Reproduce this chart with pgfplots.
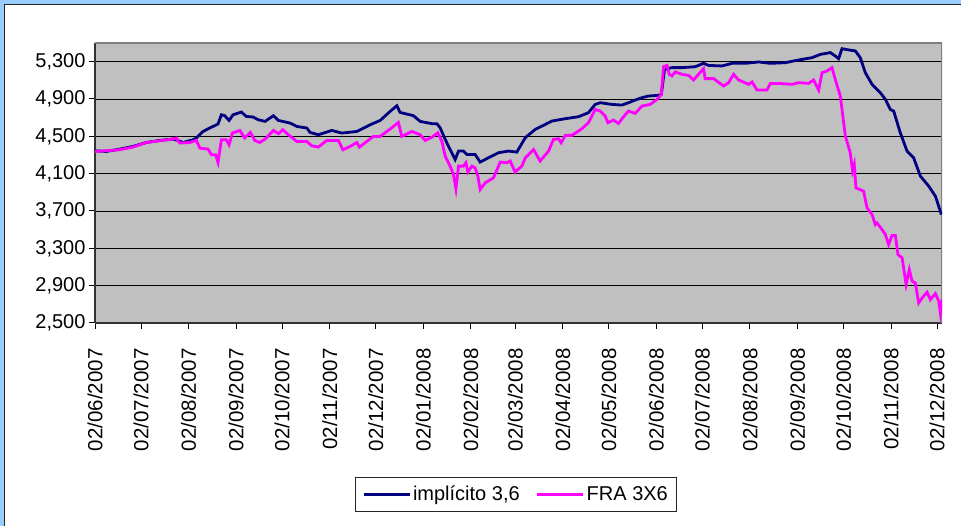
\documentclass[border=0pt]{standalone}
\usepackage{fontspec}
\setmainfont{Liberation Sans}
\usepackage{pgfplots}
\pgfplotsset{compat=1.18}
\definecolor{navyline}{HTML}{000080}
\definecolor{fraline}{HTML}{FF00FF}
\definecolor{plotgray}{HTML}{C0C0C0}
\definecolor{framebl}{HTML}{99CCFF}

\begin{document}
\begin{tikzpicture}[x=1pt,y=1pt]
\path[use as bounding box] (0,0) rectangle (961,526);
\fill[framebl] (0,0) rectangle (961,526);
\fill[white] (4,0) rectangle (961,522);
\draw[black!85, line width=1.2pt] (4.5,0) -- (4.5,521.5) -- (961,521.5);
\begin{axis}[
    at={(95pt,203pt)}, anchor=south west,
    scale only axis, width=847pt, height=280pt,
    xmin=0, xmax=552.2, ymin=2500, ymax=5500,
    axis background/.style={fill=plotgray},
    axis x line*=bottom, axis y line*=left,
    axis line style={black!80, line width=1.2pt},
    tick align=outside, major tick length=6pt,
    tick style={black, line width=1pt},
    ymajorgrids, grid style={black, line width=0.9pt},
    ytick={2500,2900,3300,3700,4100,4500,4900,5300},
    scaled y ticks=false,
    yticklabel style={/pgf/number format/.cd, 1000 sep={,}},
    xtick={0,30,61,92,122,153,183,214,245,274,305,335,366,396,427,458,488,519,549},
    xticklabels={02/06/2007,02/07/2007,02/08/2007,02/09/2007,02/10/2007,02/11/2007,02/12/2007,02/01/2008,02/02/2008,02/03/2008,02/04/2008,02/05/2008,02/06/2008,02/07/2008,02/08/2008,02/09/2008,02/10/2008,02/11/2008,02/12/2008},
    xticklabel style={rotate=90, anchor=east, font=\fontsize{20.5}{22}\selectfont},
    xticklabel shift=16pt,
    ticklabel style={font=\fontsize{20}{22}\selectfont},
    /pgf/number format/assume math mode=true,
    legend columns=2,
    legend style={at={(0.497,-0.611)}, anchor=center, draw=black!85, line width=0.8pt,
        font=\fontsize{20}{24}\selectfont, inner xsep=7pt, inner ysep=7pt,
        /tikz/every even column/.append style={column sep=14pt}},
    legend image code/.code={\draw[#1, line width=3pt] (0pt,0pt) -- (46pt,0pt);},
]
\draw[black!50, line width=1.5pt] (rel axis cs:0,1) -- (rel axis cs:1,1) -- (rel axis cs:1,0);
\addplot[navyline, line width=2.8pt] coordinates {
(0,4345) (7.4,4338) (16.1,4363) (24.8,4392) (33.5,4434) (42.2,4456) (50.9,4471)
(54.1,4456) (57.4,4434) (63.9,4463) (66.1,4482) (70.4,4552) (74.8,4589) (80.2,4632)
(82.4,4731) (84.6,4721) (87.4,4670) (90.0,4731) (95.4,4760) (98.7,4713) (103.1,4707)
(106.3,4678) (110.9,4660) (116.3,4721) (119.6,4670) (127.2,4642) (131.6,4606)
(138.1,4589) (140.2,4542) (145.6,4517) (154.4,4563) (160.9,4535) (170.7,4552)
(179.4,4624) (185.9,4670) (192.4,4767) (196.8,4828) (198.9,4756) (207.6,4721)
(212.0,4660) (219.8,4635) (222.9,4635) (225.0,4592) (228.3,4467) (231.5,4359)
(234.8,4252) (237.0,4342) (240.2,4342) (242.4,4306) (247.8,4306) (251.1,4224)
(256.5,4270) (263.0,4324) (269.6,4342) (275.0,4331) (280.5,4485) (287.0,4574)
(293.5,4627) (297.9,4664) (306.6,4689) (315.2,4710) (321.7,4753) (326.1,4842)
(329.4,4860) (337.0,4842) (343.5,4835) (347.8,4860) (352.2,4889) (356.6,4914)
(360.9,4932) (367.4,4939) (369.2,4949) (371.3,5217) (376.1,5236) (382.7,5236)
(391.3,5246) (396.7,5282) (400.0,5260) (408.7,5254) (415.3,5282) (424.0,5282)
(432.6,5297) (440.3,5282) (450.0,5289) (458.7,5318) (467.5,5343) (472.9,5378)
(479.4,5397) (482.6,5361) (484.8,5332) (487.0,5439) (491.3,5426) (495.7,5415)
(498.9,5343) (502.2,5182) (506.6,5057) (512.0,4967) (515.3,4896) (518.5,4788)
(520.7,4771) (525.0,4538) (529.4,4342) (533.7,4270) (538.1,4074) (543.5,3967)
(547.9,3859) (551.8,3662)
};
\addlegendentry{implícito 3,6}
\addplot[fraline, line width=2.8pt] coordinates {
(0,4338) (16.1,4356) (24.8,4385) (33.5,4434) (50.9,4471) (53.0,4482) (55.2,4428)
(61.8,4434) (66.1,4456) (68.3,4374) (73.7,4363) (75.9,4302) (78.7,4302) (80.2,4220)
(82.4,4463) (85.6,4463) (87.4,4410) (89.6,4535) (94.4,4563) (97.6,4482) (101.3,4542)
(104.2,4456) (107.4,4434) (110.9,4471) (116.3,4563) (119.6,4528) (122.4,4571)
(126.1,4517) (131.6,4445) (138.1,4445) (141.3,4399) (145.6,4385) (151.1,4456)
(158.7,4456) (161.6,4356) (166.3,4392) (170.7,4434) (172.4,4385) (177.2,4445)
(181.5,4499) (185.9,4499) (192.4,4578) (197.8,4649) (200.0,4499) (206.6,4552)
(212.0,4517) (215.2,4456) (219.8,4492) (223.5,4538) (226.1,4449) (228.3,4288)
(231.5,4181) (233.7,4091) (235.3,3938) (237.0,4181) (240.2,4181) (241.8,4217)
(243.1,4117) (245.7,4181) (247.8,4163) (249.6,4074) (251.1,3930) (254.4,4002)
(259.8,4056) (264.2,4224) (268.5,4217) (270.7,4235) (273.9,4117) (278.3,4181)
(280.5,4270) (285.9,4359) (290.2,4235) (295.7,4342) (298.9,4467) (302.2,4474)
(303.9,4431) (306.6,4510) (310.9,4510) (317.4,4581) (321.7,4646) (326.1,4788)
(329.4,4771) (332.6,4717) (334.4,4646) (338.0,4674) (341.3,4638) (344.6,4710)
(347.8,4771) (352.2,4746) (356.6,4825) (362.0,4842) (366.4,4896) (369.2,4949)
(370.7,5246) (372.9,5260) (374.4,5164) (376.1,5147) (378.3,5190) (382.7,5164)
(387.0,5153) (390.2,5104) (396.7,5225) (397.8,5118) (403.3,5118) (409.8,5039)
(413.1,5075) (416.3,5164) (419.6,5104) (426.1,5057) (428.4,5082) (431.6,4996)
(438.1,4996) (440.3,5067) (445.7,5067) (454.4,5057) (458.7,5075) (465.2,5067)
(468.5,5104) (471.8,4996) (474.0,5182) (477.2,5200) (480.5,5236) (482.6,5110)
(485.9,4932) (487.0,4788) (489.2,4503) (492.4,4324) (493.9,4128) (495.0,4198)
(496.1,3948) (501.1,3913) (503.3,3734) (506.6,3662) (508.7,3555) (509.8,3573)
(513.1,3501) (515.3,3447) (517.4,3340) (519.6,3437) (521.8,3437) (523.5,3233)
(526.2,3197) (528.8,2911) (530.9,3072) (532.7,2948) (534.8,2929) (537.0,2715)
(539.2,2768) (542.5,2830) (544.6,2750) (547.9,2815) (550.1,2733) (551.1,2608)
(552.2,2750)
};
\addlegendentry{FRA 3X6}
\end{axis}
\end{tikzpicture}
\end{document}
